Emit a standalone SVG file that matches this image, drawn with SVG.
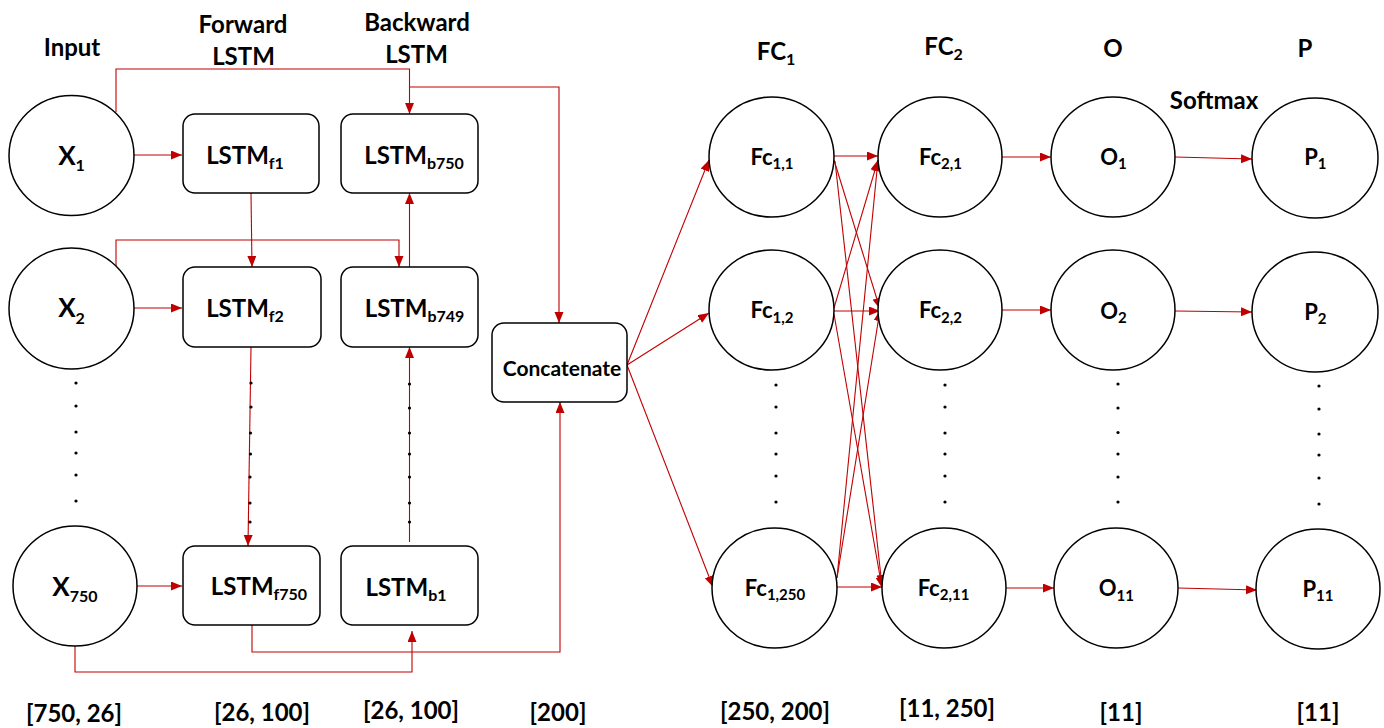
<svg xmlns="http://www.w3.org/2000/svg" width="1384" height="728" viewBox="0 0 1384 728">
<defs>
<marker id="ah" markerUnits="userSpaceOnUse" markerWidth="12" markerHeight="10" refX="11" refY="4.5" orient="auto">
<path d="M0,0 L11,4.5 L0,9 z" fill="#C00000"/>
</marker>
<style>
text{font-family:Lato,"Liberation Sans",sans-serif;font-weight:bold;fill:#000;text-anchor:middle}
.nd{fill:#fff;stroke:#000;stroke-width:1.5}
.cn path{fill:none;stroke:#C00000;stroke-width:1.1}
.ar{marker-end:url(#ah)}
.h{font-size:24px}
.lb{font-size:24px}
.xl{font-size:26px}
.sb{font-size:16px}
.fc{font-size:22px}
.fs{font-size:15px}
.dot{fill:#000}
</style>
</defs>
<rect width="1384" height="728" fill="#fff"/>

<!-- headers -->
<g id="headers">
<text class="h" x="72" y="56">Input</text>
<text class="h" x="243" y="33">Forward</text>
<text class="h" x="243.5" y="65">LSTM</text>
<text class="h" x="417" y="31">Backward</text>
<text class="h" x="416.5" y="63">LSTM</text>
<text class="h" x="776" y="60">FC<tspan class="sb" dy="5">1</tspan></text>
<text class="h" x="943.5" y="55">FC<tspan class="sb" dy="5">2</tspan></text>
<text class="h" x="1113" y="57">O</text>
<text class="h" x="1305" y="57">P</text>
<text class="h" x="1214" y="109">Softmax</text>
</g>

<!-- connectors -->
<g id="connectors" class="cn">
<path class="ar" d="M134,155 H182"/>
<path class="ar" d="M134,308 H182"/>
<path class="ar" d="M137,586 H182"/>
<path class="ar" d="M116,112 V69 H409.5 V114"/>
<path class="ar" d="M409.5,87 H559 V323"/>
<path class="ar" d="M251,193 L252,267"/>
<path class="ar" d="M116,266 V240 H399 V267"/>
<path class="ar" d="M409.5,267 V193"/>
<path class="ar" d="M251,347 L248,546"/>
<path class="ar" d="M409.5,542 V347"/>
<path class="ar" d="M252,625 V652 H560 V402"/>
<path class="ar" d="M75,646 V672 H412 V631"/>
<path class="ar" d="M627,365 L709,160"/>
<path class="ar" d="M627,365 L709,313"/>
<path class="ar" d="M627,365 L713,587"/>
<path class="ar" d="M834,156 H878"/>
<path class="ar" d="M834,160 L880,309"/>
<path class="ar" d="M835,161 L882,586"/>
<path class="ar" d="M834,308 L878,160"/>
<path class="ar" d="M834,311 H880"/>
<path class="ar" d="M834,314 L882,588"/>
<path class="ar" d="M837,578 L878,160"/>
<path class="ar" d="M837,578 L880,310"/>
<path class="ar" d="M837,587 H882"/>
<path class="ar" d="M1002,157 H1051"/>
<path class="ar" d="M1002,310 H1051"/>
<path class="ar" d="M1006,588 H1054"/>
<path class="ar" d="M1175,157 L1252,159"/>
<path class="ar" d="M1175,311 L1252,312"/>
<path class="ar" d="M1178,588 L1257,590"/>
</g>

<!-- input nodes -->
<g id="x1"><ellipse class="nd" cx="71.5" cy="155.5" rx="62.5" ry="60"/><text class="xl" x="71.5" y="165">X<tspan class="sb" dy="6">1</tspan></text></g>
<g id="x2"><ellipse class="nd" cx="71.5" cy="308.5" rx="62.5" ry="60.5"/><text class="xl" x="71.5" y="317">X<tspan class="sb" dy="7">2</tspan></text></g>
<g id="x750"><ellipse class="nd" cx="75" cy="586" rx="62" ry="60"/><text class="xl" x="75" y="596">X<tspan class="sb" dy="6">750</tspan></text></g>

<!-- LSTM nodes -->
<g id="lstm_f1"><rect class="nd" x="183" y="114" width="136" height="79" rx="12"/><text class="lb" x="245" y="164">LSTM<tspan class="sb" dy="5">f1</tspan></text></g>
<g id="lstm_b750"><rect class="nd" x="341" y="114" width="137" height="79" rx="12"/><text class="lb" x="414" y="164">LSTM<tspan class="sb" dy="5">b750</tspan></text></g>
<g id="lstm_f2"><rect class="nd" x="183" y="267" width="138" height="80" rx="12"/><text class="lb" x="245" y="317">LSTM<tspan class="sb" dy="5">f2</tspan></text></g>
<g id="lstm_b749"><rect class="nd" x="341" y="267" width="137" height="80" rx="12"/><text class="lb" x="414.5" y="317">LSTM<tspan class="sb" dy="5">b749</tspan></text></g>
<g id="lstm_f750"><rect class="nd" x="183" y="546" width="137" height="79" rx="12"/><text class="lb" x="259" y="595">LSTM<tspan class="sb" dy="5">f750</tspan></text></g>
<g id="lstm_b1"><rect class="nd" x="341" y="546" width="137" height="79" rx="12"/><text class="lb" x="406" y="596">LSTM<tspan class="sb" dy="5">b1</tspan></text></g>

<!-- concatenate -->
<g id="concat"><rect class="nd" x="492" y="323" width="135" height="79" rx="12"/><text style="font-size:21px" x="562" y="376">Concatenate</text></g>

<!-- FC1 -->
<g id="fc1_1"><ellipse class="nd" cx="771.5" cy="157" rx="62.5" ry="60"/><text class="fc" x="772" y="165">Fc<tspan class="fs" dy="4">1,1</tspan></text></g>
<g id="fc1_2"><ellipse class="nd" cx="771.5" cy="310" rx="62.5" ry="60"/><text class="fc" x="772" y="317.5">Fc<tspan class="fs" dy="5">1,2</tspan></text></g>
<g id="fc1_250"><ellipse class="nd" cx="774.5" cy="588" rx="62.5" ry="60"/><text class="fc" x="775" y="596">Fc<tspan class="fs" dy="4">1,250</tspan></text></g>

<!-- FC2 -->
<g id="fc2_1"><ellipse class="nd" cx="940" cy="157" rx="62" ry="60"/><text class="fc" x="940.5" y="165">Fc<tspan class="fs" dy="4">2,1</tspan></text></g>
<g id="fc2_2"><ellipse class="nd" cx="940" cy="310" rx="62" ry="60"/><text class="fc" x="940.5" y="317.5">Fc<tspan class="fs" dy="5">2,2</tspan></text></g>
<g id="fc2_11"><ellipse class="nd" cx="944" cy="588" rx="62" ry="60"/><text class="fc" x="943.5" y="596">Fc<tspan class="fs" dy="4">2,11</tspan></text></g>

<!-- O -->
<g id="o1"><ellipse class="nd" cx="1113" cy="157" rx="62" ry="60"/><text class="fc" x="1113.4" y="165">O<tspan class="fs" dy="4">1</tspan></text></g>
<g id="o2"><ellipse class="nd" cx="1113" cy="310" rx="62" ry="60"/><text class="fc" x="1113.4" y="319">O<tspan class="fs" dy="4">2</tspan></text></g>
<g id="o11"><ellipse class="nd" cx="1116" cy="588" rx="62" ry="60"/><text class="fc" x="1116.4" y="596">O<tspan class="fs" dy="5">11</tspan></text></g>

<!-- P -->
<g id="p1"><ellipse class="nd" cx="1315" cy="158" rx="63" ry="60"/><text class="fc" x="1315.4" y="165">P<tspan class="fs" dy="4">1</tspan></text></g>
<g id="p2"><ellipse class="nd" cx="1315" cy="312" rx="63" ry="60"/><text class="fc" x="1315.4" y="320">P<tspan class="fs" dy="4">2</tspan></text></g>
<g id="p11"><ellipse class="nd" cx="1318" cy="589" rx="62" ry="60"/><text class="fc" x="1318" y="597">P<tspan class="fs" dy="4">11</tspan></text></g>

<!-- ellipsis dots -->
<g id="dots" class="dot">
<circle cx="76" cy="383" r="1.6"/><circle cx="76" cy="406" r="1.6"/><circle cx="76" cy="432" r="1.6"/><circle cx="76" cy="453" r="1.6"/><circle cx="76" cy="475" r="1.6"/><circle cx="76" cy="501" r="1.6"/>
<circle cx="251" cy="383" r="1.6"/><circle cx="251" cy="407" r="1.6"/><circle cx="250.5" cy="433" r="1.6"/><circle cx="250.5" cy="454" r="1.6"/><circle cx="250" cy="477" r="1.6"/><circle cx="250" cy="503" r="1.6"/><circle cx="250" cy="522" r="1.6"/>
<circle cx="409.5" cy="384" r="1.6"/><circle cx="409.5" cy="408" r="1.6"/><circle cx="409.5" cy="433" r="1.6"/><circle cx="409.5" cy="454" r="1.6"/><circle cx="409.5" cy="477" r="1.6"/><circle cx="409.5" cy="503" r="1.6"/><circle cx="409.5" cy="522" r="1.6"/>
<circle cx="776" cy="385" r="1.6"/><circle cx="776" cy="407" r="1.6"/><circle cx="776" cy="433" r="1.6"/><circle cx="776" cy="454" r="1.6"/><circle cx="776" cy="476" r="1.6"/><circle cx="776" cy="502" r="1.6"/>
<circle cx="945" cy="385" r="1.6"/><circle cx="945" cy="407" r="1.6"/><circle cx="945" cy="433" r="1.6"/><circle cx="945" cy="454" r="1.6"/><circle cx="945" cy="476" r="1.6"/><circle cx="945" cy="502" r="1.6"/>
<circle cx="1118" cy="384" r="1.6"/><circle cx="1118" cy="408" r="1.6"/><circle cx="1118" cy="432.5" r="1.6"/><circle cx="1118" cy="454" r="1.6"/><circle cx="1118" cy="477" r="1.6"/><circle cx="1118" cy="502" r="1.6"/>
<circle cx="1319" cy="386" r="1.6"/><circle cx="1319" cy="409" r="1.6"/><circle cx="1319" cy="434" r="1.6"/><circle cx="1319" cy="455" r="1.6"/><circle cx="1319" cy="478" r="1.6"/><circle cx="1319" cy="504" r="1.6"/>
</g>

<!-- shape labels -->
<g id="shapes">
<text class="h" x="74" y="722">[750, 26]</text>
<text class="h" x="262" y="721">[26, 100]</text>
<text class="h" x="411" y="719">[26, 100]</text>
<text class="h" x="558" y="721">[200]</text>
<text class="h" x="775" y="720">[250, 200]</text>
<text class="h" x="947" y="717">[11, 250]</text>
<text class="h" x="1121" y="721">[11]</text>
<text class="h" x="1318" y="721">[11]</text>
</g>
</svg>
